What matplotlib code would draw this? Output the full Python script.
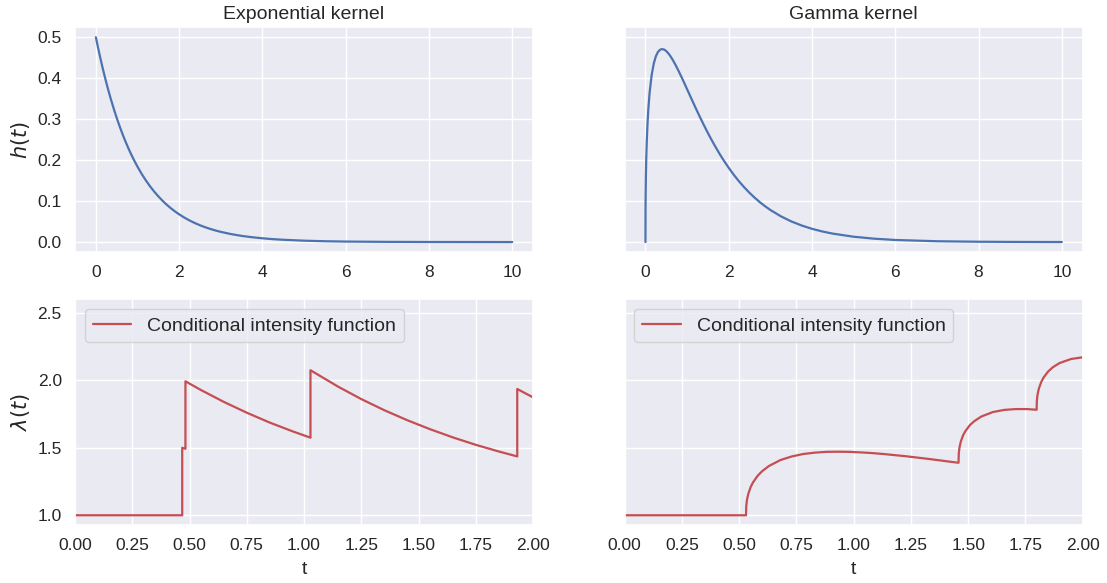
import numpy as np
import matplotlib
matplotlib.use("Agg")
import matplotlib.pyplot as plt
import seaborn as sns

# ---- data ----
kernel_t_exp = [0, 0.05, 0.1, 0.15, 0.2, 0.25, 0.3, 0.35, 0.4, 0.45, 0.5, 0.55, 0.6, 0.65,
                0.7, 0.75, 0.8, 0.85, 0.9, 0.95, 1.0, 1.1, 1.2, 1.3, 1.4, 1.5, 1.6, 1.7, 1.8,
                1.9, 2.0, 2.125, 2.25, 2.375, 2.5, 2.625, 2.75, 2.875, 3.0, 3.25, 3.5, 3.75,
                4.0, 4.25, 4.5, 5.0, 5.5, 6.0, 7.0, 8.0, 9.0, 10.0]
kernel_h_exp = [0.5, 0.4756, 0.4524, 0.4304, 0.4094, 0.3894, 0.3704, 0.3523, 0.3352, 0.3188,
                0.3033, 0.2885, 0.2744, 0.2610, 0.2483, 0.2362, 0.2247, 0.2137, 0.2033,
                0.1934, 0.1839, 0.1664, 0.1506, 0.1363, 0.1233, 0.1116, 0.1009, 0.0913,
                0.0826, 0.0748, 0.0677, 0.0597, 0.0527, 0.0465, 0.0410, 0.0362, 0.0320,
                0.0282, 0.0249, 0.0194, 0.0151, 0.0118, 0.0092, 0.0071, 0.0056, 0.0034,
                0.0020, 0.0012, 0.0005, 0.0002, 0.0001, 0.0]

kernel_t_gam = [0, 0.001, 0.002, 0.003, 0.005, 0.01, 0.02, 0.03, 0.05, 0.07, 0.1, 0.15, 0.2,
                0.25, 0.3, 0.35, 0.4, 0.45, 0.5, 0.55, 0.6, 0.65, 0.7, 0.75, 0.8, 0.85, 0.9,
                0.95, 1.0, 1.1, 1.2, 1.3, 1.4, 1.5, 1.6, 1.7, 1.8, 1.9, 2.0, 2.125, 2.25,
                2.375, 2.5, 2.625, 2.75, 2.875, 3.0, 3.25, 3.5, 3.75, 4.0, 4.25, 4.5, 5.0,
                5.5, 6.0, 7.0, 8.0, 9.0, 10.0]
kernel_h_gam = [0.0, 0.064, 0.0844, 0.099, 0.1212, 0.1591, 0.2078, 0.2420, 0.2910, 0.3264,
                0.3653, 0.4086, 0.4361, 0.4536, 0.4641, 0.4695, 0.4711, 0.4698, 0.4661,
                0.4606, 0.4537, 0.4455, 0.4366, 0.4269, 0.4167, 0.4061, 0.3953, 0.3842,
                0.3730, 0.3507, 0.3285, 0.3069, 0.2861, 0.2661, 0.2471, 0.2291, 0.2120,
                0.1961, 0.1811, 0.1637, 0.1478, 0.1333, 0.1201, 0.1081, 0.0971, 0.0873,
                0.0783, 0.0630, 0.0505, 0.0405, 0.0323, 0.0258, 0.0206, 0.0130, 0.0082,
                0.0051, 0.0020, 0.0008, 0.0003, 0.0001]

intensity_t_exp = [0.0, 0.468, 0.468, 0.482, 0.482, 0.55, 0.65, 0.75, 0.85, 0.95, 1.028,
                   1.028, 1.15, 1.25, 1.35, 1.45, 1.55, 1.65, 1.75, 1.85, 1.931, 1.931,
                   1.965, 2.0]
intensity_v_exp = [1.0, 1.0, 1.5, 1.493, 1.993, 1.928, 1.840, 1.760, 1.687, 1.622, 1.575,
                   2.075, 1.952, 1.861, 1.779, 1.705, 1.638, 1.577, 1.522, 1.473, 1.436, 1.936,
                   1.905, 1.874]

intensity_t_gam = [0.0, 0.53, 0.531, 0.533, 0.535, 0.54, 0.55, 0.56, 0.58, 0.60, 0.63, 0.68,
                   0.73, 0.78, 0.83, 0.88, 0.93, 0.98, 1.03, 1.08, 1.13, 1.23, 1.33, 1.43,
                   1.458,
                   1.459, 1.461, 1.463, 1.468, 1.478, 1.488, 1.508, 1.528, 1.558, 1.608,
                   1.658, 1.708, 1.758, 1.799,
                   1.800, 1.802, 1.804, 1.809, 1.819, 1.829, 1.849, 1.869, 1.899, 1.949, 2.0]
intensity_v_gam = [1.0, 1.0, 1.064, 1.099, 1.121, 1.159, 1.208, 1.242, 1.291, 1.326, 1.365,
                   1.409, 1.436, 1.454, 1.464, 1.470, 1.471, 1.470, 1.466, 1.461, 1.454,
                   1.437, 1.417, 1.395, 1.389,
                   1.453, 1.487, 1.509, 1.546, 1.593, 1.624, 1.669, 1.699, 1.732, 1.765,
                   1.781, 1.787, 1.787, 1.782,
                   1.846, 1.881, 1.903, 1.940, 1.987, 2.020, 2.065, 2.096, 2.128, 2.158, 2.171]

titles = ["Exponential kernel", "Gamma kernel"]
legend_label = "Conditional intensity function"

# ---- style ----
sns.set_theme(style="darkgrid", color_codes=True)
plt.rcParams["font.family"] = ["Liberation Sans", "DejaVu Sans"]

BLUE = "#4C72B0"
RED = "#C44E52"

fig = plt.figure(figsize=(11.07, 5.83), dpi=100)
axes = fig.subplots(2, 2, sharey="row")
fig.subplots_adjust(left=0.0678, right=0.978, top=0.9537, bottom=0.1,
                    wspace=0.2, hspace=0.209)

lw = 1.6
tick_fs = 12.5

ax = axes[0, 0]
ax.plot(kernel_t_exp, kernel_h_exp, color=BLUE, lw=lw)
ax.set_title(titles[0], fontsize=14)
ax.set_ylabel("$h(t)$", fontsize=15)
ax.set_xticks([0, 2, 4, 6, 8, 10])
ax.set_yticks([0.0, 0.1, 0.2, 0.3, 0.4, 0.5])

ax = axes[0, 1]
ax.plot(kernel_t_gam, kernel_h_gam, color=BLUE, lw=lw)
ax.set_title(titles[1], fontsize=14)
ax.set_xticks([0, 2, 4, 6, 8, 10])

ax = axes[1, 0]
ax.plot(intensity_t_exp, intensity_v_exp, color=RED, lw=lw, label=legend_label)
ax.set_ylabel(r"$\lambda(t)$", fontsize=15)
ax.set_xlabel("t", fontsize=14, labelpad=6)
ax.set_xlim(0, 2)
ax.set_ylim(0.93, 2.6)
ax.set_yticks([1.0, 1.5, 2.0, 2.5])
ax.set_xticks(np.arange(0, 2.01, 0.25))
ax.legend(loc="upper left", fontsize=14)

ax = axes[1, 1]
ax.plot(intensity_t_gam, intensity_v_gam, color=RED, lw=lw, label=legend_label)
ax.set_xlabel("t", fontsize=14, labelpad=6)
ax.set_xlim(0, 2)
ax.set_xticks(np.arange(0, 2.01, 0.25))
ax.legend(loc="upper left", fontsize=14)

for a in axes.flat:
    a.tick_params(labelsize=tick_fs)
    a.xaxis.label.set_color(".15")
    a.yaxis.label.set_color(".15")

fig.savefig("out.png", dpi=100)
